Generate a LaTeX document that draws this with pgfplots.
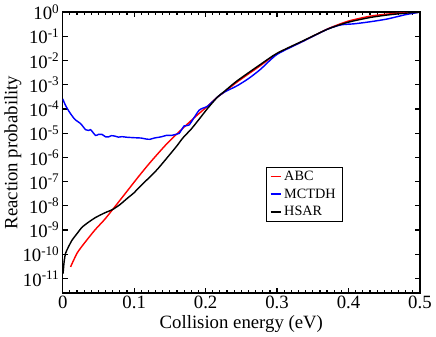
\documentclass[border=0pt]{standalone}
\usepackage{fontspec}
\setmainfont{Liberation Serif}
\usepackage{pgfplots}
\pgfplotsset{compat=1.18}
\begin{document}
\begin{tikzpicture}
\begin{axis}[
  scale only axis,
  width=276pt, height=217pt,
  ymode=log, log basis y=10,
  xmin=0, xmax=0.5, ymin=2.5e-12, ymax=1,
  xtick={0,0.1,0.2,0.3,0.4,0.5},
  xticklabels={0,0.1,0.2,0.3,0.4,0.5},
  minor x tick num=9,
  ytick={1e-11,1e-10,1e-9,1e-8,1e-7,1e-6,1e-5,1e-4,1e-3,1e-2,1e-1,1},
  yminorticks=false,
  yticklabel={10\textsuperscript{\pgfmathparse{int(round(\tick))}\pgfmathresult}},
  tick align=inside,
  major tick length=4pt, minor tick length=2.2pt,
  every tick/.style={black, line width=0.9pt},
  axis line style={line width=1.2pt},
  tick label style={font=\fontsize{14.5}{15}\selectfont},
  label style={font=\fontsize{14.5}{15}\selectfont},
  xlabel={Collision energy (eV)},
  ylabel={Reaction probability},
  xlabel style={yshift=2pt},
  ylabel style={yshift=-6pt},
  xticklabel style={yshift=1pt},
  yticklabel style={xshift=1pt},
  legend style={at={(rel axis cs:0.568,0.45)}, anchor=north west,
    font=\fontsize{11}{11}\selectfont, inner xsep=3pt, inner ysep=1pt,
    legend cell align=left, row sep=1pt},
  legend image post style={xscale=0.45, line width=1.5pt},
]
\addplot[red, line width=1.1pt, smooth, tension=0.4] coordinates {
(0.011,3.0e-11) (0.020,1.1e-10) (0.030,2.8e-10) (0.045,1.0e-9) (0.058,2.6e-9)
(0.070,7.1e-9) (0.090,4.0e-8) (0.106,1.6e-7) (0.122,6.0e-7) (0.143,3.0e-6)
(0.160,9.5e-6) (0.186,4.9e-5) (0.2027,1.3e-4) (0.2165,3.1e-4) (0.2258,4.9e-4)
(0.244,1.3e-3) (0.2766,6.2e-3) (0.30,1.95e-2) (0.3366,6.4e-2) (0.371,0.205)
(0.399,0.42) (0.43,0.68) (0.454,0.83) (0.48,0.94) (0.50,1.0)
};
\addlegendentry{ABC}
\addplot[blue, line width=1.1pt, smooth, tension=0.4] coordinates {
(0.0,2.6e-4) (0.004,1.4e-4) (0.009,7.8e-5) (0.014,4.8e-5) (0.018,3.5e-5) (0.025,2.5e-5)
(0.032,1.4e-5) (0.036,1.3e-5) (0.039,1.4e-5) (0.046,8.1e-6) (0.050,8.9e-6)
(0.055,8.9e-6) (0.060,7.1e-6) (0.064,7.0e-6) (0.068,7.9e-6) (0.073,7.6e-6)
(0.078,6.9e-6) (0.083,7.2e-6) (0.090,6.8e-6) (0.101,6.5e-6) (0.110,6.3e-6)
(0.116,5.8e-6) (0.122,5.6e-6) (0.128,6.3e-6) (0.138,7.1e-6) (0.145,8.1e-6)
(0.152,8.1e-6) (0.158,8.9e-6) (0.163,9.8e-6) (0.170,2.0e-5) (0.177,2.2e-5)
(0.191,8.9e-5) (0.2027,1.3e-4) (0.2165,3.1e-4) (0.2258,4.9e-4) (0.244,9.1e-4)
(0.260,1.8e-3) (0.2766,4.3e-3) (0.30,1.8e-2) (0.3366,6.3e-2) (0.371,0.20)
(0.39,0.30) (0.408,0.33) (0.43,0.40) (0.454,0.52) (0.48,0.79) (0.50,1.0)
};
\addlegendentry{MCTDH}
\addplot[black, line width=1.1pt, smooth, tension=0.4] coordinates {
(0.0005,1.6e-11) (0.002,5.0e-11) (0.004,1.1e-10) (0.008,2.0e-10) (0.013,3.8e-10)
(0.020,7.1e-10) (0.027,1.3e-9) (0.036,2.1e-9) (0.046,3.3e-9) (0.058,5.0e-9)
(0.070,7.1e-9) (0.080,1.12e-8) (0.090,2.0e-8) (0.100,3.5e-8) (0.106,5.4e-8) (0.129,2.5e-7)
(0.138,5.0e-7) (0.159,2.8e-6) (0.168,6.3e-6) (0.180,1.5e-5) (0.190,3.5e-5)
(0.2027,1.05e-4) (0.2165,3.1e-4) (0.2258,5.2e-4) (0.244,1.45e-3) (0.2766,6.9e-3)
(0.30,2.0e-2) (0.3366,6.6e-2) (0.371,0.20) (0.399,0.38) (0.43,0.60)
(0.454,0.76) (0.48,0.91) (0.50,1.0)
};
\addlegendentry{HSAR}
\end{axis}
\end{tikzpicture}
\end{document}
